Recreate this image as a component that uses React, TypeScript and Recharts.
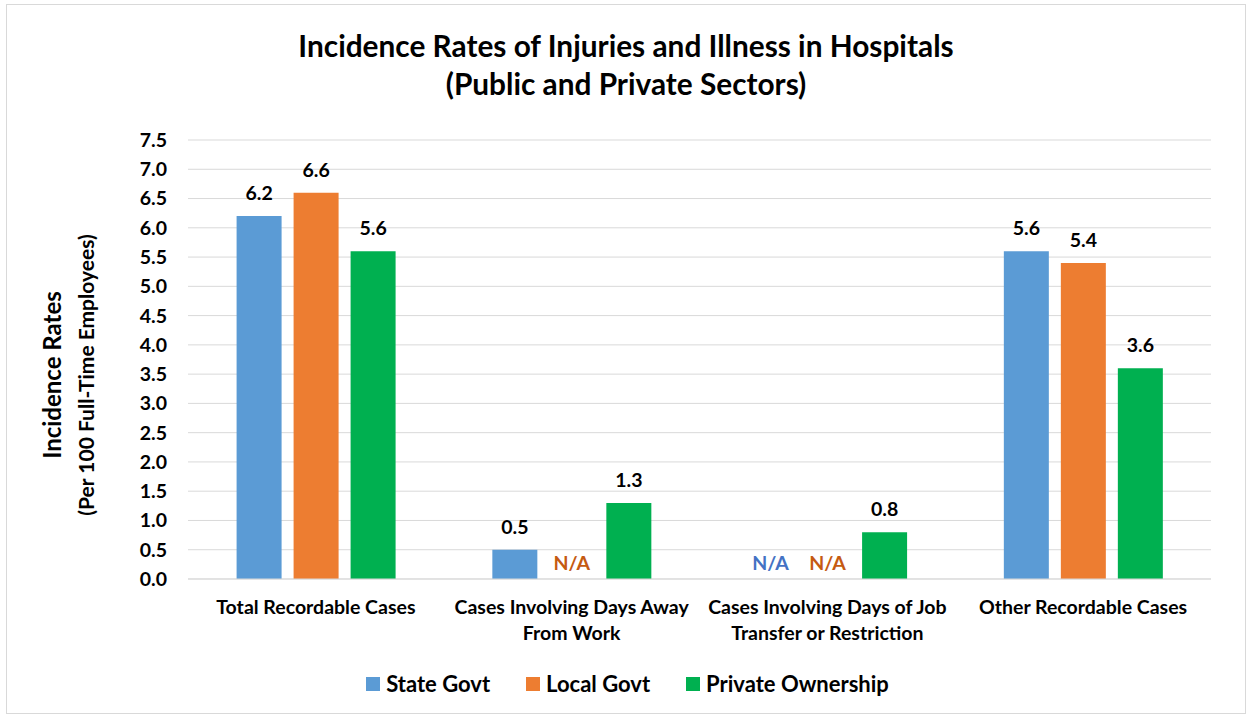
import React from "react";
import { BarChart, Bar, XAxis, YAxis, CartesianGrid, LabelList, Legend, Rectangle } from "recharts";

const categories = [
  "Total Recordable Cases",
  "Cases Involving Days Away\nFrom Work",
  "Cases Involving Days of Job\nTransfer or Restriction",
  "Other Recordable Cases",
];
const stateGovt: (number | null)[] = [6.2, 0.5, null, 5.6];
const localGovt: (number | null)[] = [6.6, null, null, 5.4];
const privateOwnership: (number | null)[] = [5.6, 1.3, 0.8, 3.6];
const yTicks = [0, 0.5, 1, 1.5, 2, 2.5, 3, 3.5, 4, 4.5, 5, 5.5, 6, 6.5, 7, 7.5];

const seriesDefs = [
  { key: "state", name: "State Govt", color: "#5B9BD5", naColor: "#4472C4", values: stateGovt },
  { key: "local", name: "Local Govt", color: "#ED7D31", naColor: "#C55A11", values: localGovt },
  { key: "private", name: "Private Ownership", color: "#00B050", naColor: "#00B050", values: privateOwnership },
];

const data = categories.map((c, i) => ({
  name: c,
  state: stateGovt[i] ?? 0,
  local: localGovt[i] ?? 0,
  private: privateOwnership[i] ?? 0,
}));

const FONT = "Lato, 'Open Sans', sans-serif";

const XTick = (props: any) => {
  const { x, y, payload } = props;
  const lines = String(payload.value).split("\n");
  return (
    <g>
      {lines.map((l, i) => (
        <text key={i} x={x} y={y + 27 + i * 26} textAnchor="middle" fontFamily={FONT} fontWeight={700} fontSize={19.5} fill="#000">
          {l}
        </text>
      ))}
    </g>
  );
};

const makeShape = (values: (number | null)[], color: string, naColor: string) => (props: any) => {
  const { x, y, width, height, index } = props;
  const v = values[index];
  if (v == null) {
    return (
      <text x={Number(x) + Number(width) / 2} y={570} textAnchor="middle" fontFamily={FONT} fontWeight={700} fontSize={19.5} fill={naColor}>
        N/A
      </text>
    );
  }
  return <Rectangle x={x} y={y} width={width} height={height} fill={color} />;
};

const makeLabel = (values: (number | null)[]) => (props: any) => {
  const { x, y, width, index } = props;
  const v = values[index];
  if (v == null) return null;
  return (
    <text x={Number(x) + Number(width) / 2} y={Number(y) - 16} textAnchor="middle" fontFamily={FONT} fontWeight={700} fontSize={19.5} fill="#000">
      {v.toFixed(1)}
    </text>
  );
};

const LegendContent = () => (
  <div style={{ display: "flex", justifyContent: "center", alignItems: "center", fontFamily: FONT, fontWeight: 700, fontSize: 22, color: "#000", paddingLeft: 6 }}>
    {seriesDefs.map((s) => (
      <div key={s.key} style={{ display: "flex", alignItems: "center", margin: "0 18px" }}>
        <div style={{ width: 14, height: 14, background: s.color, marginRight: 6 }} />
        <span>{s.name}</span>
      </div>
    ))}
  </div>
);

const YLabel = () => (
  <g>
    <text transform="translate(61,375) rotate(-90)" textAnchor="middle" fontFamily={FONT} fontWeight={700} fontSize={24} fill="#000">
      Incidence Rates
    </text>
    <text transform="translate(94,375) rotate(-90)" textAnchor="middle" fontFamily={FONT} fontWeight={700} fontSize={21} fill="#000">
      (Per 100 Full-Time Employees)
    </text>
  </g>
);

export default function App() {
  return (
    <div style={{ position: "absolute", left: 0, top: 0, width: 1249, height: 719, background: "#fff" }}>
      <div style={{ position: "absolute", left: 6, top: 4, width: 1240, height: 710, border: "1px solid #D9D9D9", boxSizing: "border-box" }} />
      <div style={{ position: "absolute", left: 0, top: 27, width: 1252, textAlign: "center", fontFamily: FONT, fontWeight: 700, fontSize: 29.8, lineHeight: "38px", color: "#000" }}>
        <div>Incidence Rates of Injuries and Illness in Hospitals</div>
        <div>(Public and Private Sectors)</div>
      </div>
      <div style={{ position: "absolute", left: 0, top: 0 }}>
        <BarChart width={1249} height={719} data={data} margin={{ top: 140, right: 38, bottom: 80, left: 0 }} barCategoryGap="19%" barGap={12}>
          <CartesianGrid vertical={false} stroke="#D9D9D9" strokeWidth={1} />
          <XAxis dataKey="name" height={60} interval={0} tickLine={false} axisLine={{ stroke: "#D9D9D9" }} tick={<XTick />} />
          <YAxis width={188} domain={[0, 7.5]} ticks={yTicks} interval={0} axisLine={false} tickLine={false} tickSize={0} tickMargin={21}
            tickFormatter={(v: number) => v.toFixed(1)}
            tick={{ fontFamily: FONT, fontWeight: 700, fontSize: 19.5, fill: "#000" }}
            label={{ content: () => <YLabel /> }} />
          {seriesDefs.map((s) => (
            <Bar key={s.key} dataKey={s.key} name={s.name} fill={s.color} minPointSize={1} isAnimationActive={false}
              shape={makeShape(s.values, s.color, s.naColor)}>
              <LabelList dataKey={s.key} content={makeLabel(s.values)} />
            </Bar>
          ))}
          <Legend layout="vertical" align="center" verticalAlign="middle" content={<LegendContent />}
            wrapperStyle={{ left: 0, top: 670, width: 1249, height: 30 }} />
        </BarChart>
      </div>
    </div>
  );
}
